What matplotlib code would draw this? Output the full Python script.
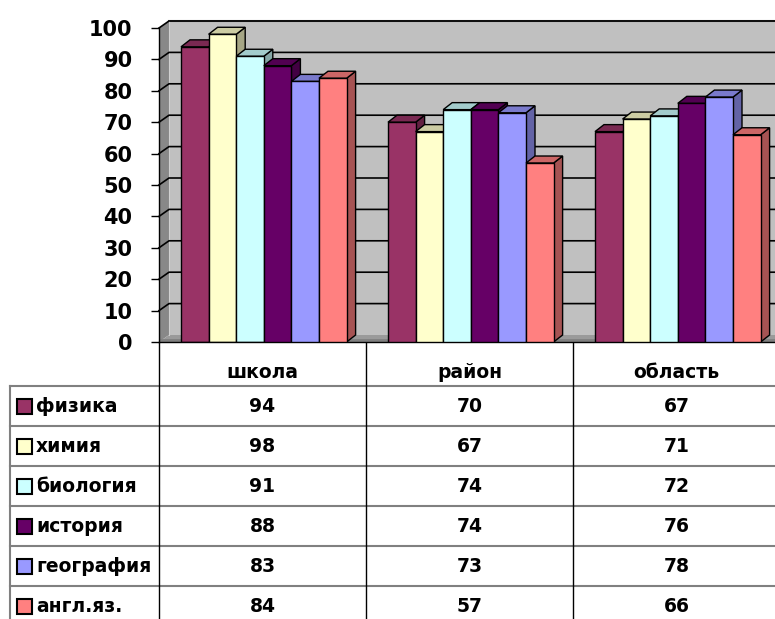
import numpy as np
import matplotlib
matplotlib.use('Agg')
from matplotlib import pyplot as plt
from matplotlib.patches import Polygon, Rectangle

plt.rcParams['font.family'] = ['DejaVu Sans']
plt.rcParams['font.weight'] = 'bold'

# данные
categories = ['школа', 'район', 'область']
subjects = ['физика', 'химия', 'биология', 'история', 'география', 'англ.яз.']
values = {
    'физика':    [94, 70, 67],
    'химия':     [98, 67, 71],
    'биология':  [91, 74, 72],
    'история':   [88, 74, 76],
    'география': [83, 73, 78],
    'англ.яз.':  [84, 57, 66],
}
colors = ['#993366', '#FFFFCC', '#CCFFFF', '#660066', '#9999FF', '#FF8080']
yticks = list(range(0, 101, 10))

# разметка в пикселях
W, H = 775, 619
X0 = 159          # передняя ось
CW = 207          # ширина категории
Y0 = 342          # уровень 0
PPU = 3.14        # пикселей на единицу
TOP = 8

xmax = (W - X0) / CW
ymax = (Y0 - TOP) / PPU


def shade(c, k):
    r, g, b = matplotlib.colors.to_rgb(c)
    return (r * k, g * k, b * k)


fig = plt.figure(figsize=(W / 100, H / 100), dpi=100)

# таблица (пиксельные координаты)
tab = fig.add_axes([0, 0, 1, 1])
tab.set_xlim(0, W)
tab.set_ylim(H, 0)
tab.axis('off')

row0 = 386
rh = 40
fs = 13.5
for k in range(len(subjects) + 1):
    y = row0 + k * rh
    tab.plot([10, W], [y, y], color='#808080', lw=1.5)
tab.plot([10, 10], [row0, H], color='#808080', lw=1.5)
for i in range(len(categories) + 1):
    x = X0 + i * CW
    tab.plot([x, x], [Y0, H], color='black', lw=1)
for i, cat in enumerate(categories):
    tab.text(X0 + (i + 0.5) * CW, 372, cat, ha='center', va='center',
             fontsize=fs, fontweight='bold')
for j, s in enumerate(subjects):
    yc = row0 + (j + 0.5) * rh
    tab.add_patch(Rectangle((17, yc - 7.5), 15, 15, facecolor=colors[j],
                            edgecolor='black', lw=1.5))
    tab.text(36, yc, s, ha='left', va='center', fontsize=fs, fontweight='bold')
    for i in range(len(categories)):
        tab.text(X0 + (i + 0.5) * CW, yc, str(values[s][i]), ha='center',
                 va='center', fontsize=fs, fontweight='bold')

# диаграмма
ax = fig.add_axes([X0 / W, (H - Y0) / H, (W - X0) / W, (Y0 - TOP) / H])
ax.set_xlim(0, xmax)
ax.set_ylim(0, ymax)
ax.patch.set_alpha(0)
for sp in ['top', 'right', 'bottom']:
    ax.spines[sp].set_visible(False)
ax.spines['left'].set_bounds(0, 100)
ax.spines['left'].set_linewidth(1)
ax.set_xticks([])
ax.set_yticks(yticks)
ax.set_yticklabels([str(t) for t in yticks], fontsize=15, fontweight='bold')
ax.tick_params(axis='y', length=6, width=1, pad=13)

dxw = 10 / CW
dyw = 7 / PPU
dxb = 9 / CW
dyb = 7 / PPU

# стены
ax.add_patch(Rectangle((dxw, dyw), xmax, 100, facecolor='#C0C0C0',
                       edgecolor='none', zorder=0))
ax.add_patch(Polygon([(0, 0), (dxw, dyw), (dxw, 100 + dyw), (0, 100)],
                     closed=True, facecolor='#888888', edgecolor='none', zorder=0))
ax.add_patch(Polygon([(0, 0), (dxw, dyw), (xmax, dyw), (xmax, 0)],
                     closed=True, facecolor='#9a9a9a', edgecolor='none', zorder=0))
ax.plot([0, xmax], [0.6, 0.6], color='#808080', lw=2, zorder=0.5)
ax.plot([dxw, xmax], [100 + dyw, 100 + dyw], color='#606060', lw=1.5, zorder=1)
ax.plot([dxw, dxw], [dyw, 100 + dyw], color='#d0d0d0', lw=0.8, zorder=1)
for t in yticks[1:]:
    ax.plot([0, dxw, xmax], [t, t + dyw, t + dyw], color='black', lw=1.2,
            zorder=1, clip_on=False)
ax.plot([0, xmax], [0, 0], color='black', lw=1, zorder=5, clip_on=False)

# столбцы
bw = 0.8 / len(subjects)
off = 22 / CW
for i in range(len(categories)):
    for j, s in enumerate(subjects):
        v = values[s][i]
        x = i + off + j * bw
        c = colors[j]
        z = 2 + i * 10 + j
        ax.add_patch(Polygon([(x + bw, 0), (x + bw + dxb, dyb),
                              (x + bw + dxb, v + dyb), (x + bw, v)],
                             closed=True, facecolor=shade(c, 0.65),
                             edgecolor='black', lw=1, zorder=z))
        ax.add_patch(Polygon([(x, v), (x + dxb, v + dyb),
                              (x + bw + dxb, v + dyb), (x + bw, v)],
                             closed=True, facecolor=shade(c, 0.8),
                             edgecolor='black', lw=1, zorder=z))
        ax.add_patch(Rectangle((x, 0), bw, v, facecolor=c,
                               edgecolor='black', lw=1, zorder=z))

fig.savefig('out.png', dpi=100)
